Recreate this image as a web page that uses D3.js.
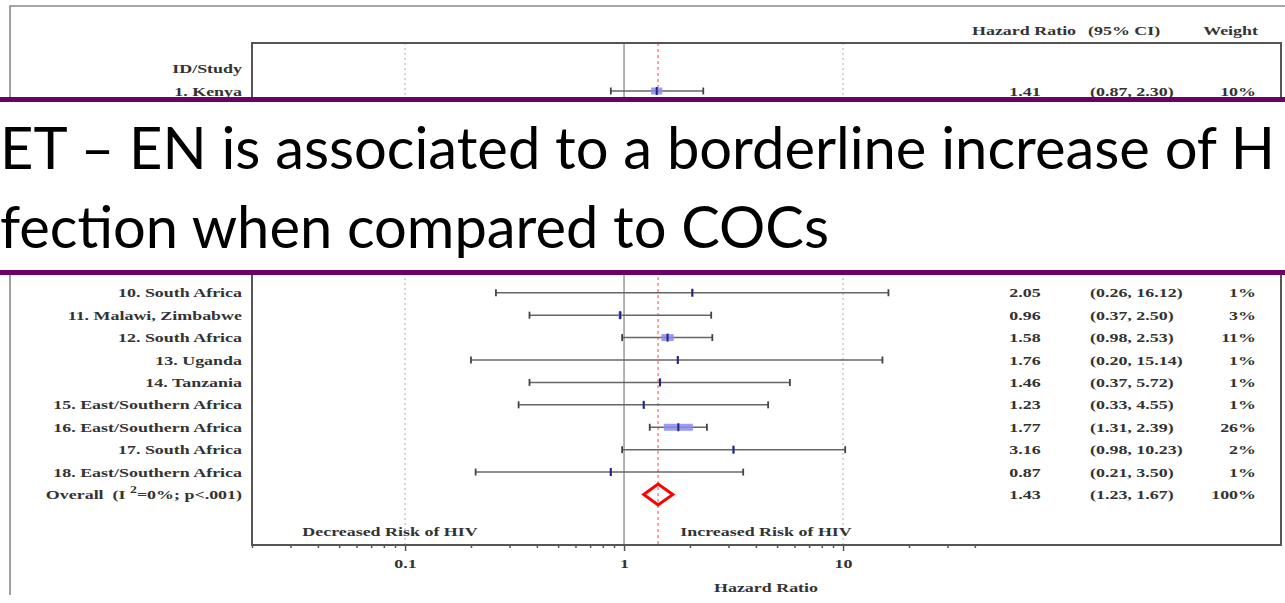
<!DOCTYPE html>
<html>
<head>
<meta charset="utf-8">
<script src="https://cdn.jsdelivr.net/npm/d3@7"></script>
<style>
  body { margin: 0; background: #fff; }
  svg { display: block; }
  .serif { font-family: "Liberation Serif", "Times New Roman", serif; font-weight: bold; font-size: 13px; fill: #333; white-space: pre; }
  .banner { font-family: Lato, "Open Sans", sans-serif; font-size: 58px; fill: #000; }
</style>
</head>
<body>
<script>
// Study rows (rows 2-9 sit under the headline banner)
const studies = ["1. Kenya", "10. South Africa", "11. Malawi, Zimbabwe", "12. South Africa", "13. Uganda",
  "14. Tanzania", "15. East/Southern Africa", "16. East/Southern Africa", "17. South Africa", "18. East/Southern Africa"];
const rowNumbers = [1, 10, 11, 12, 13, 14, 15, 16, 17, 18];
const hazardRatios = [1.41, 2.05, 0.96, 1.58, 1.76, 1.46, 1.23, 1.77, 3.16, 0.87];
const ciLower = [0.87, 0.26, 0.37, 0.98, 0.20, 0.37, 0.33, 1.31, 0.98, 0.21];
const ciUpper = [2.30, 16.12, 2.50, 2.53, 15.14, 5.72, 4.55, 2.39, 10.23, 3.50];
const weights = [10, 1, 3, 11, 1, 1, 1, 26, 2, 1];

// Pooled estimate
const overallRow = 19;
const overallHR = 1.43, overallLo = 1.23, overallHi = 1.67, overallWeight = 100;

// Axis ticks
const majorTicks = [0.1, 1, 10];
const majorTickLabels = ["0.1", "1", "10"];
const minorTicks = [0.02, 0.03, 0.04, 0.05, 0.06, 0.07, 0.08, 0.09,
  0.2, 0.3, 0.4, 0.5, 0.6, 0.7, 0.8, 0.9, 2, 3, 4, 5, 6, 7, 8, 9, 20, 30, 40];

const headline = ["ET – EN is associated to a borderline increase of H", "fection when compared to COCs"];

const W = 1285, H = 603;
const SX = 1.38; // horizontal stretch of the serif labels

const svg = d3.select("body").append("svg").attr("width", W).attr("height", H);

const x = d3.scaleLog().domain([0.02, 1000]).range([252, 1281]);
const y = d3.scaleLinear().domain([0, 19]).range([68.6, 494.5]);
const plotTop = 43, plotBottom = 545;

function label(x0, y0, txt, anchor) {
  return svg.append("text").attr("class", "serif")
    .attr("transform", `translate(${x0},${y0}) scale(${SX},1)`)
    .attr("text-anchor", anchor).attr("dy", "0.35em").text(txt);
}

// outer frame
svg.append("path").attr("d", `M10,595 V6 H${W}`).attr("fill", "none")
  .attr("stroke", "#888").attr("stroke-width", 1.6);

// reference lines
[0.1, 10].forEach(v => svg.append("line")
  .attr("x1", x(v)).attr("x2", x(v)).attr("y1", plotTop).attr("y2", plotBottom)
  .attr("stroke", "#bbb").attr("stroke-width", 1.2).attr("stroke-dasharray", "2,3"));
svg.append("line").attr("x1", x(1)).attr("x2", x(1)).attr("y1", plotTop).attr("y2", plotBottom)
  .attr("stroke", "#a0a0a0").attr("stroke-width", 1.6);
svg.append("line").attr("x1", x(overallHR)).attr("x2", x(overallHR)).attr("y1", plotTop).attr("y2", plotBottom)
  .attr("stroke", "#f66").attr("stroke-width", 1.2).attr("stroke-dasharray", "3,3");

// plot box
svg.append("rect").attr("x", 252).attr("y", plotTop).attr("width", 1281 - 252).attr("height", plotBottom - plotTop)
  .attr("fill", "none").attr("stroke", "#555").attr("stroke-width", 2);

// axis
const gAxis = svg.append("g").attr("transform", `translate(0,${plotBottom})`);
gAxis.call(d3.axisBottom(x).tickValues(minorTicks).tickSize(3).tickFormat(""));
const gMajor = svg.append("g").attr("transform", `translate(0,${plotBottom})`);
gMajor.call(d3.axisBottom(x).tickValues(majorTicks).tickSize(6).tickFormat((d, i) => majorTickLabels[i]));
svg.selectAll(".domain").remove();
svg.selectAll(".tick line").attr("stroke", "#555").attr("stroke-width", 1.5);
gMajor.selectAll(".tick text").attr("class", "serif").attr("y", 0).attr("dy", 0)
  .attr("transform", `translate(0,23) scale(${SX},1)`).attr("font-size", null).attr("font-family", null);

// row data
const rows = studies.map((s, i) => ({ study: s, row: rowNumbers[i], hr: hazardRatios[i], lo: ciLower[i], hi: ciUpper[i], w: weights[i] }));

const gRows = svg.append("g");
const r = gRows.selectAll("g").data(rows).join("g");
r.append("line").attr("x1", d => x(d.lo)).attr("x2", d => x(d.hi)).attr("y1", d => y(d.row)).attr("y2", d => y(d.row))
  .attr("stroke", "#666").attr("stroke-width", 1.5);
r.append("line").attr("x1", d => x(d.lo)).attr("x2", d => x(d.lo)).attr("y1", d => y(d.row) - 3.5).attr("y2", d => y(d.row) + 3.5)
  .attr("stroke", "#444").attr("stroke-width", 1.8);
r.append("line").attr("x1", d => x(d.hi)).attr("x2", d => x(d.hi)).attr("y1", d => y(d.row) - 3.5).attr("y2", d => y(d.row) + 3.5)
  .attr("stroke", "#444").attr("stroke-width", 1.8);
r.append("rect").attr("x", d => x(d.hr) - Math.max(2, d.w * 1.12) / 2).attr("y", d => y(d.row) - 3.5)
  .attr("width", d => Math.max(2, d.w * 1.12)).attr("height", 7).attr("fill", "#8a8cf0").attr("opacity", 0.85);
r.append("line").attr("x1", d => x(d.hr)).attr("x2", d => x(d.hr)).attr("y1", d => y(d.row) - 4).attr("y2", d => y(d.row) + 4)
  .attr("stroke", "#23237a").attr("stroke-width", 2);

// pooled diamond
const yo = y(overallRow);
svg.append("path")
  .attr("d", `M${x(overallLo)},${yo} L${x(overallHR)},${yo - 10.5} L${x(overallHi)},${yo} L${x(overallHR)},${yo + 10.5} Z`)
  .attr("fill", "none").attr("stroke", "#f00").attr("stroke-width", 3);

// text columns
const fmt2 = d3.format(".2f");
const hrX = 1025, ciX = 1090, wX = 1256;
label(242, y(0), "ID/Study", "end");
rows.forEach(d => {
  label(242, y(d.row), d.study, "end");
  label(hrX, y(d.row), fmt2(d.hr), "middle");
  label(ciX, y(d.row), `(${fmt2(d.lo)}, ${fmt2(d.hi)})`, "start");
  label(wX, y(d.row), `${d.w}%`, "end");
});
const ov = svg.append("text").attr("class", "serif")
  .attr("transform", `translate(242,${yo}) scale(${SX},1)`).attr("text-anchor", "end").attr("dy", "0.35em");
ov.append("tspan").text("Overall  (I ");
ov.append("tspan").attr("baseline-shift", "super").attr("font-size", "10px").text("2");
ov.append("tspan").text("=0%; p<.001)");
label(hrX, yo, fmt2(overallHR), "middle");
label(ciX, yo, `(${fmt2(overallLo)}, ${fmt2(overallHi)})`, "start");
label(wX, yo, `${overallWeight}%`, "end");

// column headers
label(972, 30, "Hazard Ratio", "start");
label(1088, 30, "(95% CI)", "start");
label(1258, 30, "Weight", "end");

// side captions and axis title
label(390, 531, "Decreased Risk of HIV", "middle");
label(766, 531, "Increased Risk of HIV", "middle");
label(766, 587, "Hazard Ratio", "middle");

// headline banner
const band = svg.append("g");
band.append("rect").attr("x", 0).attr("y", 98).attr("width", W).attr("height", 176).attr("fill", "#fff");
[97, 270].forEach(yy => band.append("rect").attr("x", 0).attr("y", yy).attr("width", W).attr("height", 5).attr("fill", "#6b0066"));
band.append("text").attr("class", "banner").attr("x", 0).attr("y", 169)
  .attr("textLength", 1275).attr("lengthAdjust", "spacingAndGlyphs").text(headline[0]);
band.append("text").attr("class", "banner").attr("x", 0).attr("y", 248)
  .attr("textLength", 829).attr("lengthAdjust", "spacingAndGlyphs").text(headline[1]);
</script>
</body>
</html>
